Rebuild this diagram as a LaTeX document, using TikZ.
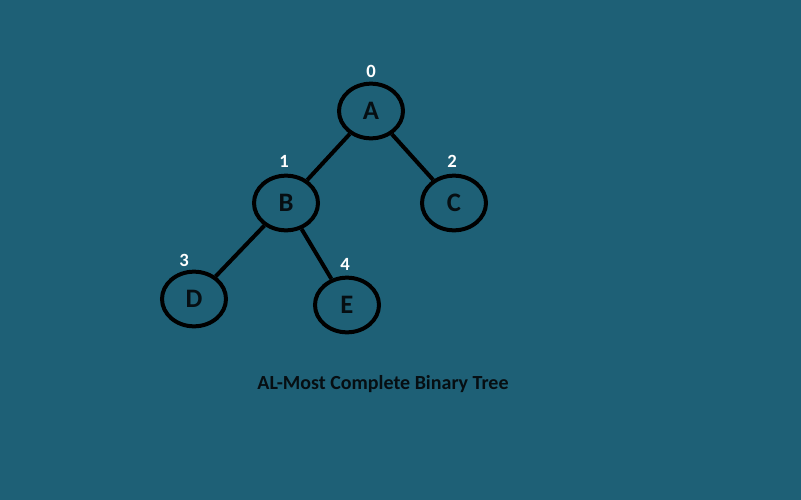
\documentclass[tikz,border=0pt]{standalone}
\usepackage{fontspec}
\setmainfont{Carlito}
\usetikzlibrary{shapes.geometric}

\definecolor{bgteal}{RGB}{30,96,118}
\definecolor{inkdark}{RGB}{6,14,18}

\begin{document}
\begin{tikzpicture}[x=0.75pt, y=-0.75pt, every node/.style={font=\bfseries},
    treenode/.style={ellipse, draw=black, line width=3pt, minimum width=48pt,
      minimum height=41pt, inner sep=0pt, font=\fontsize{20}{20}\bfseries, text=inkdark},
    idx/.style={text=white, font=\fontsize{14}{14}\bfseries},
    edge/.style={draw=black, line width=3pt}]
  \fill[bgteal] (0,0) rectangle (801,500);
  \useasboundingbox (0,0) rectangle (801,500);
  % the tree
  \node[treenode] (a) at (371,111) {A};
  \node[treenode] (b) at (286,203) {B};
  \node[treenode] (c) at (454,203) {C};
  \node[treenode] (d) at (194,299) {D};
  \node[treenode] (e) at (347,305) {E};
  \draw[edge] (a) -- (b);
  \draw[edge] (a) -- (c);
  \draw[edge] (b) -- (d);
  \draw[edge] (b) -- (e);
  % array positions
  \node[idx] (i0) at (371,71) {0};
  \node[idx] (i1) at (284,161) {1};
  \node[idx] (i2) at (452,161) {2};
  \node[idx] (i3) at (184,260) {3};
  \node[idx] (i4) at (345,264) {4};
  \node[text=inkdark, font=\fontsize{15}{15}\bfseries] (cap) at (383,384) {AL-Most Complete Binary Tree};
\end{tikzpicture}
\end{document}
